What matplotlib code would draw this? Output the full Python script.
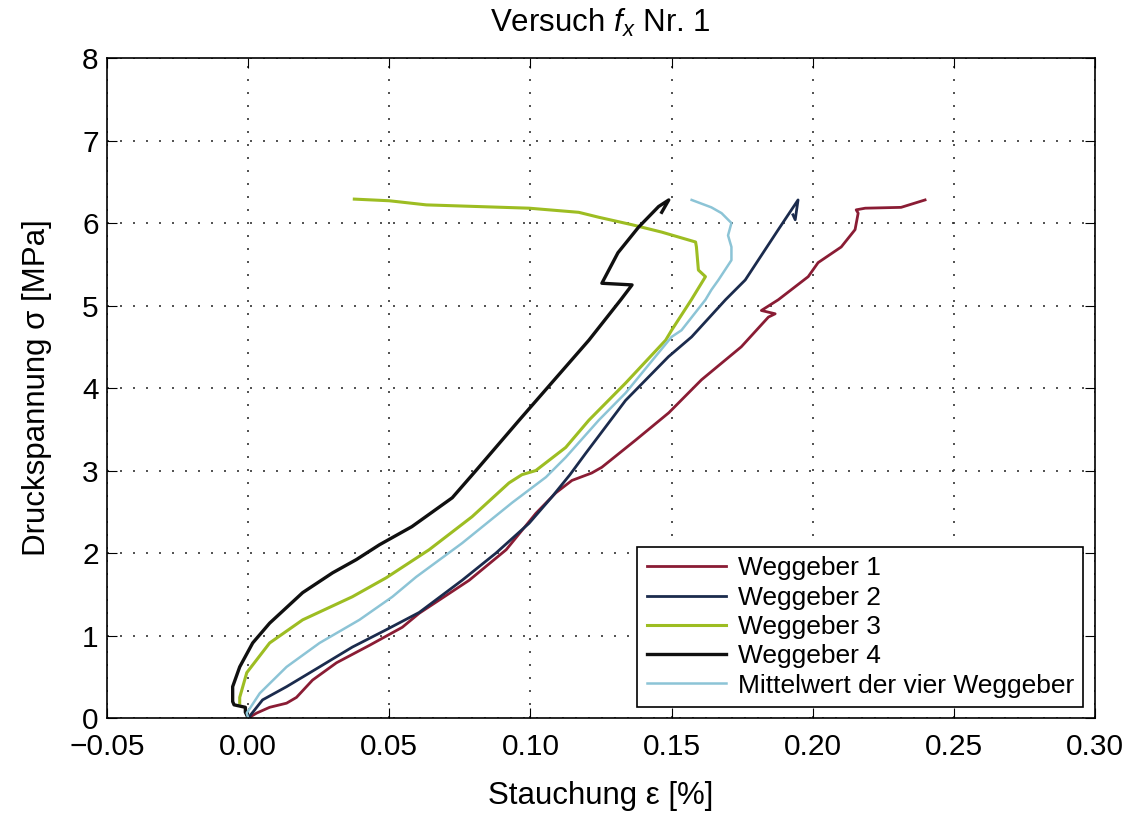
# Versuch f_x Nr. 1 - Spannungs-Stauchungs-Kurven der vier Weggeber

import matplotlib
matplotlib.use("Agg")
from matplotlib import pyplot as plt

# Daten: Stauchung [%] und Druckspannung [MPa], in Pfadreihenfolge
wg1_eps = [0.0, 0.003, 0.0076, 0.0136, 0.0171, 0.0228, 0.0313, 0.0429, 0.0546, 0.0606, 0.0783, 0.0914,
           0.1019, 0.109, 0.1147, 0.1217, 0.1253, 0.1373, 0.149, 0.1606, 0.1747, 0.1843, 0.1867, 0.1818,
           0.1878, 0.1984, 0.2019, 0.2101, 0.215, 0.2161, 0.2154, 0.2186, 0.2313, 0.2398]
wg1_sig = [0.0, 0.06, 0.13, 0.18, 0.25, 0.46, 0.67, 0.88, 1.10, 1.27, 1.67, 2.04,
           2.48, 2.73, 2.88, 2.97, 3.04, 3.37, 3.70, 4.10, 4.50, 4.86, 4.90, 4.94,
           5.07, 5.35, 5.52, 5.71, 5.92, 6.12, 6.16, 6.18, 6.19, 6.28]

wg2_eps = [0.0, 0.0051, 0.0136, 0.0253, 0.0369, 0.0489, 0.0606, 0.0758, 0.0878, 0.0995, 0.1076, 0.114,
           0.1196, 0.1337, 0.1489, 0.1571, 0.1691, 0.1761, 0.1878, 0.1948, 0.1938, 0.193]
wg2_sig = [0.0, 0.22, 0.38, 0.62, 0.86, 1.07, 1.28, 1.67, 2.00, 2.36, 2.68, 2.95,
           3.21, 3.85, 4.38, 4.62, 5.07, 5.31, 5.92, 6.28, 6.04, 6.10]

wg3_eps = [-0.003, -0.003, -0.0005, 0.0076, 0.0193, 0.0369, 0.0489, 0.0641, 0.0793, 0.0924, 0.097, 0.1019,
           0.1125, 0.1207, 0.1337, 0.1479, 0.150, 0.157, 0.162, 0.1595, 0.1588, 0.1585, 0.1525, 0.1465,
           0.1359, 0.1242, 0.1171, 0.0995, 0.0631, 0.050, 0.0376]
wg3_sig = [0.18, 0.25, 0.55, 0.91, 1.19, 1.47, 1.70, 2.04, 2.44, 2.85, 2.95, 3.00,
           3.28, 3.61, 4.06, 4.58, 4.70, 5.07, 5.35, 5.43, 5.71, 5.77, 5.83, 5.89,
           5.98, 6.07, 6.13, 6.18, 6.22, 6.27, 6.29]

wg4_eps = [0.0, -0.001, -0.001, -0.005, -0.0055, -0.0055, -0.003, 0.0016, 0.0076, 0.0193, 0.0299, 0.0383,
           0.0465, 0.058, 0.0723, 0.0807, 0.096, 0.110, 0.1207, 0.132, 0.136, 0.1253, 0.131, 0.1383,
           0.1454, 0.149, 0.1465]
wg4_sig = [0.0, 0.07, 0.13, 0.16, 0.20, 0.38, 0.62, 0.91, 1.15, 1.52, 1.76, 1.92,
           2.10, 2.32, 2.67, 3.00, 3.61, 4.16, 4.58, 5.07, 5.25, 5.27, 5.64, 5.95,
           6.20, 6.28, 6.13]

mw_eps = [0.0, -0.0005, 0.0041, 0.0136, 0.0253, 0.0394, 0.0511, 0.0595, 0.0758, 0.0935, 0.1055, 0.1125,
          0.1242, 0.1337, 0.150, 0.1535, 0.162, 0.1641, 0.1666, 0.1712, 0.1712, 0.170, 0.1712, 0.1677,
          0.1641, 0.1571]
mw_sig = [0.0, 0.06, 0.30, 0.62, 0.91, 1.19, 1.47, 1.71, 2.12, 2.61, 2.92, 3.16,
          3.61, 3.94, 4.62, 4.70, 5.07, 5.19, 5.31, 5.55, 5.71, 5.85, 6.00, 6.12,
          6.19, 6.28]

labels = ["Weggeber 1", "Weggeber 2", "Weggeber 3", "Weggeber 4", "Mittelwert der vier Weggeber"]

plt.rcParams['font.family'] = ['Liberation Sans', 'DejaVu Sans']
plt.rcParams['mathtext.fontset'] = 'custom'
plt.rcParams['mathtext.rm'] = 'Liberation Sans'
plt.rcParams['mathtext.it'] = 'Liberation Sans:italic'

fig = plt.figure(figsize=(11.34, 8.14), dpi=100)
ax = fig.add_axes([0.0944, 0.1179, 0.8712, 0.8108])

ax.plot(wg1_eps, wg1_sig, color='#8a1c34', lw=2.0, label=labels[0])
ax.plot(wg2_eps, wg2_sig, color='#1b2b4d', lw=2.0, label=labels[1])
ax.plot(wg3_eps, wg3_sig, color='#9dbd22', lw=2.2, label=labels[2])
ax.plot(wg4_eps, wg4_sig, color='#101010', lw=2.4, label=labels[3])
ax.plot(mw_eps, mw_sig, color='#8cc4d6', lw=1.8, label=labels[4])

ax.set_xlim(-0.05, 0.30)
ax.set_ylim(0, 8)
ax.set_xticks([-0.05, 0.0, 0.05, 0.10, 0.15, 0.20, 0.25, 0.30])
ax.set_xticklabels(['\u22120.05', '0.00', '0.05', '0.10', '0.15', '0.20', '0.25', '0.30'])
ax.set_yticks(range(0, 9))

# MATLAB-Stil: gepunktetes Gitter, Ticks innen auf allen Seiten
ax.grid(True, linestyle=(0, (1.2, 6.6)), color='#333333', linewidth=1.2)
ax.tick_params(direction='in', top=True, right=True, length=7, labelsize=21.5)
ax.tick_params(axis='x', pad=11)
ax.tick_params(axis='y', pad=6)
for s in ax.spines.values():
	s.set_linewidth(1.2)

ax.set_xlabel('Stauchung \u03b5 [%]', fontsize=22.5, labelpad=14)
ax.set_ylabel('Druckspannung \u03c3 [MPa]', fontsize=22.5, labelpad=22)
# Titel ueber der Achse, etwas hoeher als ax.set_title
fig.text(0.529, 0.972, r'Versuch $f_x$ Nr. 1', fontsize=22.5, ha='center', va='center')

leg = ax.legend(loc='lower right', bbox_to_anchor=(0.988, 0.017), borderaxespad=0,
				fontsize=19, handlelength=3.0, handletextpad=0.45, labelspacing=0.2,
				borderpad=0.35, fancybox=False, framealpha=1, edgecolor='black')
leg.get_frame().set_linewidth(1.2)

fig.savefig('out.png', dpi=100)
